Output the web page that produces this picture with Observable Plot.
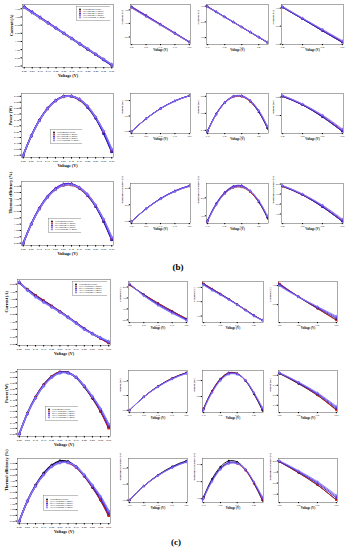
<!DOCTYPE html>
<html><head><meta charset="utf-8">
<script src="https://cdn.jsdelivr.net/npm/d3@7"></script>
<script src="https://cdn.jsdelivr.net/npm/@observablehq/plot@0.6"></script>
<style>
body{margin:0;background:#fff;}
#fig{position:relative;width:349px;height:550px;overflow:hidden;background:#fff;font-family:"Liberation Serif","Times New Roman",serif;}
.p{position:absolute;}
.tag{position:absolute;font-size:9px;font-weight:bold;transform:translateX(-50%);}
</style></head><body><div id="fig"></div>
<script>
// ---------- data ----------
const voltage = [0, 0.05, 0.10, 0.15, 0.20, 0.25, 0.30, 0.35, 0.40, 0.45, 0.50, 0.55];
const voltageTicks = [0, 0.05, 0.10, 0.15, 0.20, 0.25, 0.30, 0.35, 0.40, 0.45, 0.50, 0.55];
const seriesB = ["Experimental results", "1D Coupling TE model", "2D Coupling TE model", "3D Coupling TE model", "CFD Coupling TE model"];
const seriesC = ["Experimental results", "1D-C Coupling TE model", "2D-C Coupling TE model", "3D-C Coupling TE model", "3D-N Coupling TE model"];
const seriesColors = ["#000000", "#d02020", "#2020e0", "#8030d0", "#7c7cff"];
const seriesSymbols = ["circle", "square", "triangle", "diamond", "star"];

// (b) current, A
const currentB_exp = [3.60, 3.28, 2.96, 2.63, 2.31, 1.99, 1.67, 1.34, 1.02, 0.70, 0.37, 0.05];
const currentB_m1  = [3.58, 3.26, 2.94, 2.62, 2.30, 1.98, 1.66, 1.34, 1.02, 0.70, 0.38, 0.06];
const currentB_m2  = [3.62, 3.30, 2.97, 2.65, 2.32, 2.00, 1.67, 1.35, 1.02, 0.70, 0.37, 0.05];
const currentB_m3  = [3.61, 3.29, 2.97, 2.64, 2.32, 2.00, 1.68, 1.36, 1.04, 0.72, 0.40, 0.08];
const currentB_m4  = [3.57, 3.25, 2.94, 2.62, 2.30, 1.99, 1.67, 1.35, 1.04, 0.72, 0.41, 0.10];
// (b) power, W
const powerB_exp = [0, 0.164, 0.296, 0.395, 0.462, 0.498, 0.501, 0.469, 0.408, 0.315, 0.185, 0.028];
const powerB_m1  = [0, 0.163, 0.294, 0.393, 0.460, 0.495, 0.498, 0.469, 0.408, 0.315, 0.190, 0.033];
const powerB_m2  = [0, 0.165, 0.297, 0.398, 0.464, 0.500, 0.501, 0.473, 0.408, 0.315, 0.185, 0.028];
const powerB_m3  = [0, 0.165, 0.297, 0.396, 0.464, 0.500, 0.504, 0.476, 0.416, 0.324, 0.200, 0.044];
const powerB_m4  = [0, 0.163, 0.294, 0.393, 0.460, 0.498, 0.501, 0.473, 0.416, 0.324, 0.205, 0.055];
// (b) thermal efficiency, %
const effB_exp = [0.0, 1.51, 2.73, 3.64, 4.26, 4.59, 4.62, 4.33, 3.76, 2.90, 1.71, 0.26];
const effB_m1  = [0.0, 1.50, 2.71, 3.62, 4.24, 4.56, 4.59, 4.32, 3.76, 2.91, 1.75, 0.30];
const effB_m2  = [0.0, 1.53, 2.76, 3.69, 4.31, 4.65, 4.68, 4.38, 3.79, 2.92, 1.71, 0.26];
const effB_m3  = [0.0, 1.52, 2.74, 3.66, 4.29, 4.63, 4.66, 4.39, 3.84, 2.99, 1.84, 0.40];
const effB_m4  = [0.0, 1.49, 2.69, 3.60, 4.22, 4.56, 4.60, 4.36, 3.83, 2.99, 1.89, 0.50];

// (c) current, A
const currentC_exp = [4.10, 3.66, 3.26, 2.90, 2.55, 2.19, 1.81, 1.42, 1.04, 0.70, 0.40, 0.10];
const currentC_m1  = [4.08, 3.65, 3.26, 2.90, 2.55, 2.19, 1.81, 1.43, 1.05, 0.71, 0.40, 0.09];
const currentC_m2  = [4.12, 3.64, 3.22, 2.86, 2.52, 2.17, 1.80, 1.42, 1.03, 0.71, 0.42, 0.14];
const currentC_m3  = [4.14, 3.61, 3.18, 2.82, 2.49, 2.15, 1.79, 1.41, 1.01, 0.71, 0.44, 0.17];
const currentC_m4  = [4.15, 3.60, 3.16, 2.80, 2.48, 2.14, 1.78, 1.39, 0.99, 0.70, 0.45, 0.20];
// (c) power, W
const powerC_exp = [0, 0.183, 0.326, 0.435, 0.510, 0.548, 0.543, 0.497, 0.416, 0.315, 0.200, 0.055];
const powerC_m1  = [0, 0.183, 0.326, 0.435, 0.510, 0.548, 0.543, 0.501, 0.420, 0.320, 0.200, 0.050];
const powerC_m2  = [0, 0.182, 0.323, 0.431, 0.506, 0.545, 0.541, 0.500, 0.421, 0.323, 0.210, 0.068];
const powerC_m3  = [0, 0.181, 0.320, 0.427, 0.502, 0.541, 0.539, 0.500, 0.423, 0.328, 0.218, 0.080];
const powerC_m4  = [0, 0.180, 0.318, 0.424, 0.499, 0.538, 0.538, 0.501, 0.425, 0.332, 0.225, 0.090];
// (c) thermal efficiency, %
const effC_exp = [0.0, 1.75, 3.12, 4.16, 4.87, 5.22, 5.16, 4.70, 3.90, 2.92, 1.82, 0.48];
const effC_m1  = [0.0, 1.73, 3.06, 4.06, 4.76, 5.10, 5.06, 4.65, 3.90, 2.95, 1.84, 0.46];
const effC_m2  = [0.0, 1.74, 3.08, 4.09, 4.79, 5.13, 5.10, 4.70, 3.94, 3.00, 1.96, 0.65];
const effC_m3  = [0.0, 1.73, 3.05, 4.04, 4.74, 5.08, 5.07, 4.71, 3.97, 3.06, 2.05, 0.78];
const effC_m4  = [0.0, 1.72, 3.03, 4.01, 4.71, 5.06, 5.07, 4.73, 4.00, 3.12, 2.14, 0.90];

const zoomRanges = [[0, 0.2], [0.1, 0.45], [0.4, 0.55]];

// ---------- build ----------
const fig = document.getElementById("fig");

function rows(names, table) {
  return names.flatMap((s, i) => voltage.map((v, j) => ({series: s, v, y: table[i][j]})));
}

function place(el, left, top) {
  const d = document.createElement("div");
  d.className = "p";
  d.style.left = left + "px";
  d.style.top = top + "px";
  d.appendChild(el);
  fig.appendChild(d);
}

function panel({data, names, box, xdom, ylabel, main}) {
  const [fx0, fy0, fx1, fy1] = box;
  const mL = main ? 14 : 10, mB = main ? 12 : 10, mT = 1, mR = 1;
  const width = fx1 - fx0 + mL + mR, height = fy1 - fy0 + mT + mB;
  const step = 0.05;
  const inside = data.filter(d => d.v >= xdom[0] - 1e-9 && d.v <= xdom[1] + 1e-9);
  const shown = main ? data : data.filter(d => d.v >= xdom[0] - step - 1e-9 && d.v <= xdom[1] + step + 1e-9);
  const [ymin, ymax] = d3.extent(inside, d => d.y);
  const pad = (ymax - ymin) * (main ? 0.04 : 0.06);
  const xpad = (xdom[1] - xdom[0]) * 0.02;
  const fs = main ? 2.8 : 2.2;
  const p = Plot.plot({
    width, height,
    marginLeft: mL, marginRight: mR, marginTop: mT, marginBottom: mB,
    style: {fontFamily: "Liberation Serif, serif", fontSize: fs + "px", background: "transparent", overflow: "visible"},
    x: {domain: [xdom[0] - xpad, xdom[1] + xpad]},
    y: {domain: [ymin - pad, ymax + pad]},
    color: {domain: names, range: seriesColors},
    symbol: {domain: names, range: seriesSymbols},
    marks: [
      Plot.frame({stroke: "#555", strokeWidth: 0.5}),
      Plot.axisX(main ? {ticks: voltageTicks, tickFormat: d3.format(".2f"), tickSize: 1.5, tickPadding: 1, label: null}
                      : {ticks: 3, tickSize: 1.2, tickPadding: 0.8, label: null, tickFormat: d3.format(".2f")}),
      Plot.axisY({ticks: main ? 10 : 3, tickSize: main ? 1.5 : 1.2, tickPadding: main ? 1 : 0.8, label: null, tickFormat: d3.format(".2f")}),
      Plot.line(shown, {x: "v", y: "y", z: "series", stroke: "series", curve: "catmull-rom", strokeWidth: main ? 1.4 : 0.9, clip: true}),
      Plot.dot(shown, {x: "v", y: "y", fill: "series", symbol: "series", r: main ? 1.3 : 1.0, clip: true}),
      Plot.text(["Voltage (V)"], {text: d => d, frameAnchor: "bottom", dy: main ? 9 : 6.5, fontWeight: "bold", fontSize: main ? 4.2 : 3}),
      Plot.text([ylabel], {text: d => d, frameAnchor: "left", dx: main ? -11 : -8, rotate: -90, fontWeight: "bold", fontSize: main ? 4.2 : 2.8})
    ]
  });
  place(p, fx0 - mL, fy0 - mT);
}

function legend(names, box) {
  const [x0, y0, x1, y1] = box;
  const p = Plot.plot({
    width: x1 - x0, height: y1 - y0,
    margin: 0, marginTop: 1, marginBottom: 1,
    style: {fontFamily: "Liberation Serif, serif", background: "white"},
    x: {axis: null}, y: {type: "band", domain: names, axis: null},
    color: {domain: names, range: seriesColors},
    symbol: {domain: names, range: seriesSymbols},
    marks: [
      Plot.frame({stroke: "#666", strokeWidth: 0.4, fill: "white"}),
      Plot.dot(names, {y: d => d, frameAnchor: "left", dx: 3.5, fill: d => d, symbol: d => d, r: 0.9}),
      Plot.text(names, {y: d => d, text: d => d, frameAnchor: "left", dx: 6.5, textAnchor: "start", fontSize: 2.2})
    ]
  });
  place(p, x0, y0);
}

const sections = [
  {
    names: seriesB,
    rowsData: [
      {label: "Current (A)", table: [currentB_exp, currentB_m1, currentB_m2, currentB_m3, currentB_m4]},
      {label: "Power (W)", table: [powerB_exp, powerB_m1, powerB_m2, powerB_m3, powerB_m4]},
      {label: "Thermal efficiency (%)", table: [effB_exp, effB_m1, effB_m2, effB_m3, effB_m4]}
    ],
    mainBoxes: [[22, 4, 113, 67], [21, 93, 113, 157], [21, 181, 113, 245]],
    smallX: [[130, 190], [206, 268], [281, 343]],
    smallY: [[4, 44], [93, 133], [183, 223]],
    legends: [[76, 5, 110, 21], [50, 128, 82, 144], [48, 217, 81, 233]],
    tag: ["(b)", 178, 262]
  },
  {
    names: seriesC,
    rowsData: [
      {label: "Current (A)", table: [currentC_exp, currentC_m1, currentC_m2, currentC_m3, currentC_m4]},
      {label: "Power (W)", table: [powerC_exp, powerC_m1, powerC_m2, powerC_m3, powerC_m4]},
      {label: "Thermal efficiency (%)", table: [effC_exp, effC_m1, effC_m2, effC_m3, effC_m4]}
    ],
    mainBoxes: [[17, 279, 110, 345], [17, 369, 110, 436], [17, 458, 110, 523]],
    smallX: [[128, 187], [202, 263], [278, 337]],
    smallY: [[281, 322], [370, 412], [458, 502]],
    legends: [[72, 280, 107, 296], [45, 405, 78, 421], [43, 494, 78, 511]],
    tag: ["(c)", 176, 537]
  }
];

for (const sec of sections) {
  sec.rowsData.forEach((r, i) => {
    const data = rows(sec.names, r.table);
    panel({data, names: sec.names, box: sec.mainBoxes[i], xdom: [0, 0.55], ylabel: r.label, main: true});
    legend(sec.names, sec.legends[i]);
    zoomRanges.forEach((xr, k) => {
      const [sx0, sx1] = sec.smallX[k];
      const [sy0, sy1] = sec.smallY[i];
      panel({data, names: sec.names, box: [sx0, sy0, sx1, sy1], xdom: xr, ylabel: r.label, main: false});
    });
  });
  const t = document.createElement("div");
  t.className = "tag";
  t.textContent = sec.tag[0];
  t.style.left = sec.tag[1] + "px";
  t.style.top = sec.tag[2] + "px";
  fig.appendChild(t);
}
</script>
</body></html>
